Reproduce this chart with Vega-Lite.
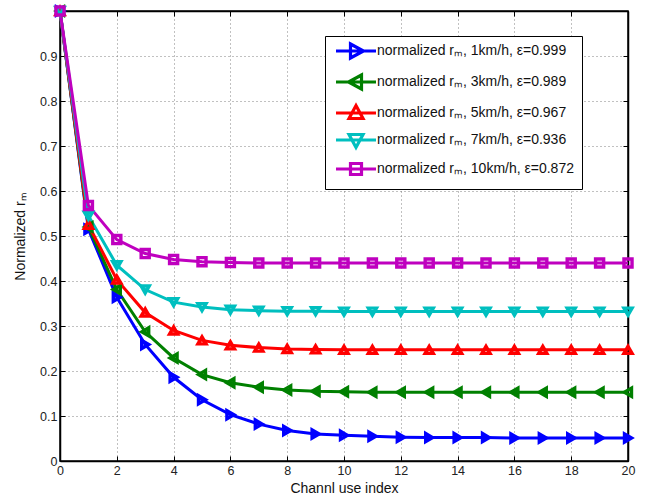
{
  "$schema": "https://vega.github.io/schema/vega-lite/v6.json",
  "width": 568,
  "height": 450,
  "autosize": "none",
  "padding": {"left": 60, "top": 11, "right": 18, "bottom": 37},
  "background": "white",
  "config": {
    "font": "Liberation Sans",
    "view": {"stroke": "black", "strokeWidth": 1.5},
    "axis": {
      "labelFont": "Liberation Sans", "titleFont": "Liberation Sans",
      "labelFontSize": 12.5, "labelColor": "#222", "titleFontSize": 14, "titleFontWeight": "normal", "titleColor": "#111",
      "domainColor": "black", "domainWidth": 1.5, "tickColor": "black", "tickSize": -5, "tickWidth": 1,
      "gridColor": "#777", "gridDash": [1, 3], "gridWidth": 1, "gridOpacity": 0.9
    },
    "legend": {"labelFont": "Liberation Sans", "orient": "none", "legendX": 265, "legendY": 25, "strokeColor": "black", "fillColor": "white",
               "padding": 8, "labelFontSize": 14, "labelColor": "#111", "symbolSize": 100, "symbolStrokeWidth": 3.2, "symbolOffset": 16,
               "rowPadding": 3, "labelOffset": 14, "labelLimit": 400,
               "labelExpr": "datum.label + '              '"},
    "point": {"filled": false, "size": 65, "strokeWidth": 3.4, "opacity": 1}
  },
  "datasets": {
    "rm": [
      {"x":0,"s":"normalized rₘ, 1km/h, ε=0.999","y":1},{"x":1,"s":"normalized rₘ, 1km/h, ε=0.999","y":0.515},{"x":2,"s":"normalized rₘ, 1km/h, ε=0.999","y":0.364},{"x":3,"s":"normalized rₘ, 1km/h, ε=0.999","y":0.259},{"x":4,"s":"normalized rₘ, 1km/h, ε=0.999","y":0.186},{"x":5,"s":"normalized rₘ, 1km/h, ε=0.999","y":0.136},{"x":6,"s":"normalized rₘ, 1km/h, ε=0.999","y":0.103},{"x":7,"s":"normalized rₘ, 1km/h, ε=0.999","y":0.082},{"x":8,"s":"normalized rₘ, 1km/h, ε=0.999","y":0.068},{"x":9,"s":"normalized rₘ, 1km/h, ε=0.999","y":0.06},{"x":10,"s":"normalized rₘ, 1km/h, ε=0.999","y":0.057},{"x":11,"s":"normalized rₘ, 1km/h, ε=0.999","y":0.055},{"x":12,"s":"normalized rₘ, 1km/h, ε=0.999","y":0.053},{"x":13,"s":"normalized rₘ, 1km/h, ε=0.999","y":0.052},{"x":14,"s":"normalized rₘ, 1km/h, ε=0.999","y":0.052},{"x":15,"s":"normalized rₘ, 1km/h, ε=0.999","y":0.052},{"x":16,"s":"normalized rₘ, 1km/h, ε=0.999","y":0.051},{"x":17,"s":"normalized rₘ, 1km/h, ε=0.999","y":0.051},{"x":18,"s":"normalized rₘ, 1km/h, ε=0.999","y":0.051},{"x":19,"s":"normalized rₘ, 1km/h, ε=0.999","y":0.051},{"x":20,"s":"normalized rₘ, 1km/h, ε=0.999","y":0.051},
      {"x":0,"s":"normalized rₘ, 3km/h, ε=0.989","y":1},{"x":1,"s":"normalized rₘ, 3km/h, ε=0.989","y":0.52},{"x":2,"s":"normalized rₘ, 3km/h, ε=0.989","y":0.381},{"x":3,"s":"normalized rₘ, 3km/h, ε=0.989","y":0.287},{"x":4,"s":"normalized rₘ, 3km/h, ε=0.989","y":0.229},{"x":5,"s":"normalized rₘ, 3km/h, ε=0.989","y":0.192},{"x":6,"s":"normalized rₘ, 3km/h, ε=0.989","y":0.174},{"x":7,"s":"normalized rₘ, 3km/h, ε=0.989","y":0.164},{"x":8,"s":"normalized rₘ, 3km/h, ε=0.989","y":0.158},{"x":9,"s":"normalized rₘ, 3km/h, ε=0.989","y":0.155},{"x":10,"s":"normalized rₘ, 3km/h, ε=0.989","y":0.154},{"x":11,"s":"normalized rₘ, 3km/h, ε=0.989","y":0.153},{"x":12,"s":"normalized rₘ, 3km/h, ε=0.989","y":0.153},{"x":13,"s":"normalized rₘ, 3km/h, ε=0.989","y":0.153},{"x":14,"s":"normalized rₘ, 3km/h, ε=0.989","y":0.153},{"x":15,"s":"normalized rₘ, 3km/h, ε=0.989","y":0.153},{"x":16,"s":"normalized rₘ, 3km/h, ε=0.989","y":0.153},{"x":17,"s":"normalized rₘ, 3km/h, ε=0.989","y":0.153},{"x":18,"s":"normalized rₘ, 3km/h, ε=0.989","y":0.153},{"x":19,"s":"normalized rₘ, 3km/h, ε=0.989","y":0.153},{"x":20,"s":"normalized rₘ, 3km/h, ε=0.989","y":0.153},
      {"x":0,"s":"normalized rₘ, 5km/h, ε=0.967","y":1},{"x":1,"s":"normalized rₘ, 5km/h, ε=0.967","y":0.525},{"x":2,"s":"normalized rₘ, 5km/h, ε=0.967","y":0.403},{"x":3,"s":"normalized rₘ, 5km/h, ε=0.967","y":0.33},{"x":4,"s":"normalized rₘ, 5km/h, ε=0.967","y":0.29},{"x":5,"s":"normalized rₘ, 5km/h, ε=0.967","y":0.268},{"x":6,"s":"normalized rₘ, 5km/h, ε=0.967","y":0.257},{"x":7,"s":"normalized rₘ, 5km/h, ε=0.967","y":0.252},{"x":8,"s":"normalized rₘ, 5km/h, ε=0.967","y":0.249},{"x":9,"s":"normalized rₘ, 5km/h, ε=0.967","y":0.248},{"x":10,"s":"normalized rₘ, 5km/h, ε=0.967","y":0.247},{"x":11,"s":"normalized rₘ, 5km/h, ε=0.967","y":0.247},{"x":12,"s":"normalized rₘ, 5km/h, ε=0.967","y":0.247},{"x":13,"s":"normalized rₘ, 5km/h, ε=0.967","y":0.247},{"x":14,"s":"normalized rₘ, 5km/h, ε=0.967","y":0.247},{"x":15,"s":"normalized rₘ, 5km/h, ε=0.967","y":0.247},{"x":16,"s":"normalized rₘ, 5km/h, ε=0.967","y":0.247},{"x":17,"s":"normalized rₘ, 5km/h, ε=0.967","y":0.247},{"x":18,"s":"normalized rₘ, 5km/h, ε=0.967","y":0.247},{"x":19,"s":"normalized rₘ, 5km/h, ε=0.967","y":0.247},{"x":20,"s":"normalized rₘ, 5km/h, ε=0.967","y":0.247},
      {"x":0,"s":"normalized rₘ, 7km/h, ε=0.936","y":1},{"x":1,"s":"normalized rₘ, 7km/h, ε=0.936","y":0.545},{"x":2,"s":"normalized rₘ, 7km/h, ε=0.936","y":0.435},{"x":3,"s":"normalized rₘ, 7km/h, ε=0.936","y":0.381},{"x":4,"s":"normalized rₘ, 7km/h, ε=0.936","y":0.353},{"x":5,"s":"normalized rₘ, 7km/h, ε=0.936","y":0.342},{"x":6,"s":"normalized rₘ, 7km/h, ε=0.936","y":0.336},{"x":7,"s":"normalized rₘ, 7km/h, ε=0.936","y":0.334},{"x":8,"s":"normalized rₘ, 7km/h, ε=0.936","y":0.333},{"x":9,"s":"normalized rₘ, 7km/h, ε=0.936","y":0.333},{"x":10,"s":"normalized rₘ, 7km/h, ε=0.936","y":0.332},{"x":11,"s":"normalized rₘ, 7km/h, ε=0.936","y":0.332},{"x":12,"s":"normalized rₘ, 7km/h, ε=0.936","y":0.332},{"x":13,"s":"normalized rₘ, 7km/h, ε=0.936","y":0.332},{"x":14,"s":"normalized rₘ, 7km/h, ε=0.936","y":0.332},{"x":15,"s":"normalized rₘ, 7km/h, ε=0.936","y":0.332},{"x":16,"s":"normalized rₘ, 7km/h, ε=0.936","y":0.332},{"x":17,"s":"normalized rₘ, 7km/h, ε=0.936","y":0.332},{"x":18,"s":"normalized rₘ, 7km/h, ε=0.936","y":0.332},{"x":19,"s":"normalized rₘ, 7km/h, ε=0.936","y":0.332},{"x":20,"s":"normalized rₘ, 7km/h, ε=0.936","y":0.332},
      {"x":0,"s":"normalized rₘ, 10km/h, ε=0.872","y":1},{"x":1,"s":"normalized rₘ, 10km/h, ε=0.872","y":0.568},{"x":2,"s":"normalized rₘ, 10km/h, ε=0.872","y":0.492},{"x":3,"s":"normalized rₘ, 10km/h, ε=0.872","y":0.461},{"x":4,"s":"normalized rₘ, 10km/h, ε=0.872","y":0.448},{"x":5,"s":"normalized rₘ, 10km/h, ε=0.872","y":0.443},{"x":6,"s":"normalized rₘ, 10km/h, ε=0.872","y":0.441},{"x":7,"s":"normalized rₘ, 10km/h, ε=0.872","y":0.44},{"x":8,"s":"normalized rₘ, 10km/h, ε=0.872","y":0.44},{"x":9,"s":"normalized rₘ, 10km/h, ε=0.872","y":0.44},{"x":10,"s":"normalized rₘ, 10km/h, ε=0.872","y":0.44},{"x":11,"s":"normalized rₘ, 10km/h, ε=0.872","y":0.44},{"x":12,"s":"normalized rₘ, 10km/h, ε=0.872","y":0.44},{"x":13,"s":"normalized rₘ, 10km/h, ε=0.872","y":0.44},{"x":14,"s":"normalized rₘ, 10km/h, ε=0.872","y":0.44},{"x":15,"s":"normalized rₘ, 10km/h, ε=0.872","y":0.44},{"x":16,"s":"normalized rₘ, 10km/h, ε=0.872","y":0.44},{"x":17,"s":"normalized rₘ, 10km/h, ε=0.872","y":0.44},{"x":18,"s":"normalized rₘ, 10km/h, ε=0.872","y":0.44},{"x":19,"s":"normalized rₘ, 10km/h, ε=0.872","y":0.44},{"x":20,"s":"normalized rₘ, 10km/h, ε=0.872","y":0.44}
    ]
  },
  "data": {"name": "rm"},
  "resolve": {"axis": {"x": "independent", "y": "independent"}},
  "layer": [
    {
      "mark": {"type": "line", "strokeWidth": 3, "clip": false},
      "encoding": {
        "x": {"field": "x", "type": "quantitative", "scale": {"domain": [0, 20], "nice": false},
              "axis": {"orient": "bottom", "values": [0,2,4,6,8,10,12,14,16,18,20], "title": "Channl use index", "labelPadding": 8, "titlePadding": 5, "labelFlush": false}},
        "y": {"field": "y", "type": "quantitative", "scale": {"domain": [0, 1], "nice": false},
              "axis": {"orient": "left", "values": [0,0.1,0.2,0.3,0.4,0.5,0.6,0.7,0.8,0.9,1], "title": "Normalized rₘ", "labelPadding": 8, "titlePadding": 12,
                       "labelExpr": "datum.value >= 1 ? '' : '' + round(datum.value*10)/10", "labelFlush": false}},
        "color": {"field": "s", "type": "nominal", "title": null,
                  "scale": {"domain": ["normalized rₘ, 1km/h, ε=0.999","normalized rₘ, 3km/h, ε=0.989","normalized rₘ, 5km/h, ε=0.967","normalized rₘ, 7km/h, ε=0.936","normalized rₘ, 10km/h, ε=0.872"],
                            "range": ["#0000FF","#008000","#FF0000","#00BFBF","#BF00BF"]},
                  "legend": {"symbolType": "M-4,0L4,0", "encoding": {"symbols": {
                    "shape": {"value": {"expr": "['M-4,0L4,0M-1.1,-1.4L1.5,0L-1.1,1.4Z','M-4,0L4,0M1.1,-1.4L-1.5,0L1.1,1.4Z','M-4,0L4,0M-1.4,1.1L0,-1.5L1.4,1.1Z','M-4,0L4,0M-1.4,-1.1L0,1.5L1.4,-1.1Z','M-4,0L4,0M-1.1,-1.1L1.1,-1.1L1.1,1.1L-1.1,1.1Z'][datum.index]"}},
                    "strokeWidth": {"value": 3.2}}}}}
      }
    },
    {
      "transform": [{"filter": "indexof(datum.s, ' 1km/h') >= 0"}],
      "mark": {"type": "point", "shape": "triangle-right", "clip": false},
      "encoding": {
        "x": {"field": "x", "type": "quantitative",
              "axis": {"orient": "top", "values": [0,2,4,6,8,10,12,14,16,18,20], "labels": false, "title": null, "grid": false}},
        "y": {"field": "y", "type": "quantitative",
              "axis": {"orient": "right", "values": [0,0.1,0.2,0.3,0.4,0.5,0.6,0.7,0.8,0.9,1], "labels": false, "title": null, "grid": false}},
        "color": {"field": "s", "type": "nominal", "legend": null}
      }
    },
    {
      "transform": [{"filter": "indexof(datum.s, ' 3km/h') >= 0"}],
      "mark": {"type": "point", "shape": "triangle-left", "clip": false},
      "encoding": {
        "x": {"field": "x", "type": "quantitative", "axis": null},
        "y": {"field": "y", "type": "quantitative", "axis": null},
        "color": {"field": "s", "type": "nominal", "legend": null}
      }
    },
    {
      "transform": [{"filter": "indexof(datum.s, ' 5km/h') >= 0"}],
      "mark": {"type": "point", "shape": "triangle-up", "clip": false},
      "encoding": {
        "x": {"field": "x", "type": "quantitative", "axis": null},
        "y": {"field": "y", "type": "quantitative", "axis": null},
        "color": {"field": "s", "type": "nominal", "legend": null}
      }
    },
    {
      "transform": [{"filter": "indexof(datum.s, ' 7km/h') >= 0"}],
      "mark": {"type": "point", "shape": "triangle-down", "clip": false},
      "encoding": {
        "x": {"field": "x", "type": "quantitative", "axis": null},
        "y": {"field": "y", "type": "quantitative", "axis": null},
        "color": {"field": "s", "type": "nominal", "legend": null}
      }
    },
    {
      "transform": [{"filter": "indexof(datum.s, ' 10km/h') >= 0"}],
      "mark": {"type": "point", "shape": "square", "clip": false},
      "encoding": {
        "x": {"field": "x", "type": "quantitative", "axis": null},
        "y": {"field": "y", "type": "quantitative", "axis": null},
        "color": {"field": "s", "type": "nominal", "legend": null}
      }
    }
  ]
}
